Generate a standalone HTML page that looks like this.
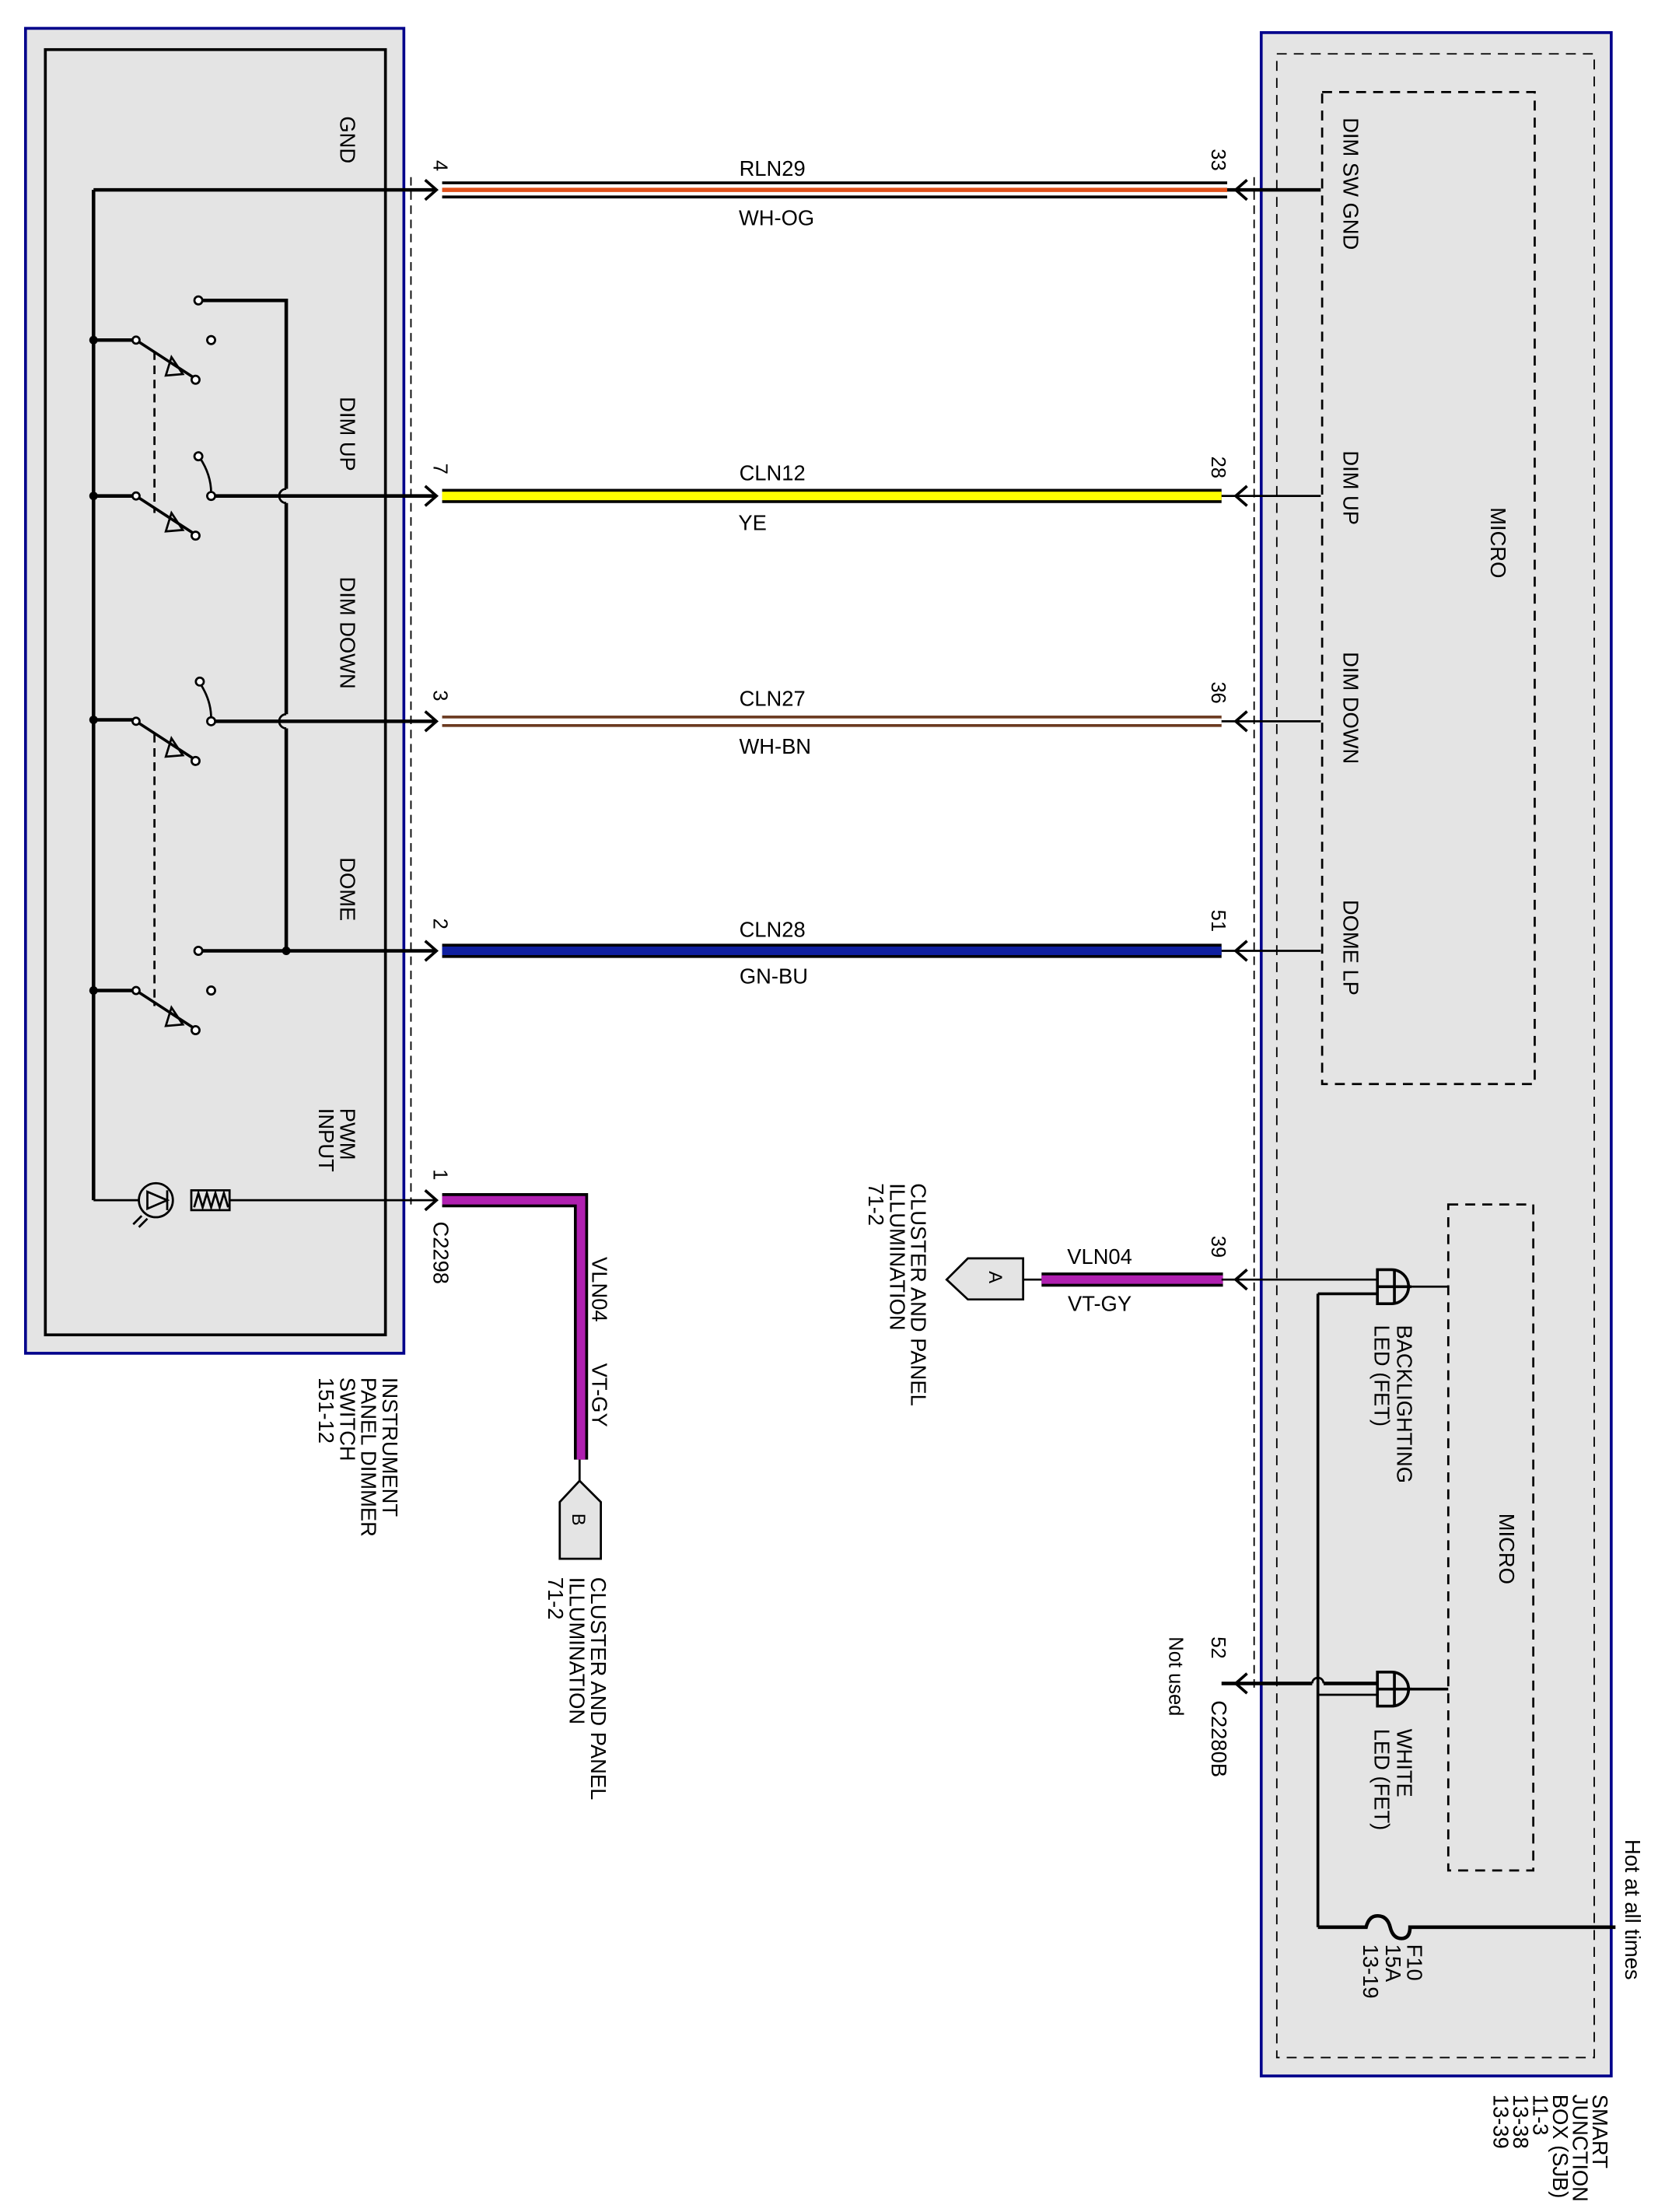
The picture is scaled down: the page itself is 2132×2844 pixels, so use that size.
<!DOCTYPE html>
<html><head><meta charset="utf-8"><style>
html,body{margin:0;padding:0;background:#fff;}
svg{display:block;}
text{font-family:"Liberation Sans",sans-serif;fill:#000;}
</style></head><body>
<svg width="2132" height="2844" viewBox="0 0 1170 1561" preserveAspectRatio="none" xmlns="http://www.w3.org/2000/svg">
<defs>
<g id="arR"><path d="M-8,-7 L0,0 L-8,7" fill="none" stroke="#000" stroke-width="2"/></g>
<g id="arL"><path d="M8,-7 L0,0 L8,7" fill="none" stroke="#000" stroke-width="2"/></g>
</defs>
<!-- left box -->
<rect x="18" y="20" width="267" height="935" fill="#e4e4e4" stroke="#00008b" stroke-width="2"/>
<rect x="32" y="35" width="240" height="907" fill="none" stroke="#000" stroke-width="2"/>
<line x1="290" y1="125" x2="290" y2="850" stroke="#000" stroke-dasharray="6,4"/>
<!-- right box -->
<rect x="890" y="23" width="247" height="1442" fill="#e4e4e4" stroke="#00008b" stroke-width="2"/>
<rect x="901" y="38" width="224" height="1414" fill="none" stroke="#000" stroke-dasharray="7,5"/>
<line x1="885" y1="125" x2="885" y2="1195" stroke="#000" stroke-dasharray="6,4"/>
<rect x="933" y="65" width="150" height="700" fill="none" stroke="#000" stroke-width="1.5" stroke-dasharray="7,5"/>
<rect x="1022" y="850" width="60" height="470" fill="none" stroke="#000" stroke-width="1.5" stroke-dasharray="7,5"/>

<!-- wires -->
<g>
<line x1="312" y1="129" x2="866" y2="129" stroke="#000" stroke-width="2"/>
<line x1="312" y1="139" x2="866" y2="139" stroke="#000" stroke-width="2"/>
<line x1="312" y1="134" x2="866" y2="134" stroke="#e0501a" stroke-width="3"/>
<rect x="312" y="345" width="550" height="10" fill="#000"/>
<rect x="312" y="347" width="550" height="6" fill="#ffff00"/>
<rect x="312" y="505" width="550" height="8" fill="#6b3a20"/>
<rect x="312" y="507" width="550" height="4" fill="#fff"/>
<rect x="312" y="666" width="550" height="10" fill="#000"/>
<rect x="312" y="668" width="550" height="6" fill="#1020a0"/>
<path d="M312,847 H410 V1030" fill="none" stroke="#000" stroke-width="10"/>
<path d="M312,847 H410 V1030" fill="none" stroke="#b020b0" stroke-width="6"/>
<rect x="735" y="898" width="128" height="10" fill="#000"/>
<rect x="735" y="900" width="128" height="6" fill="#b020b0"/>
</g>
<!-- arrows and stubs -->
<g stroke="#000" stroke-width="2.5" fill="none">
<line x1="66" y1="134" x2="308" y2="134"/>
<line x1="150" y1="350" x2="308" y2="350"/>
<line x1="150" y1="509" x2="308" y2="509"/>
<line x1="141" y1="671" x2="308" y2="671"/>
<line x1="866" y1="134" x2="932" y2="134"/>
</g>
<g stroke="#000" stroke-width="1.5">
<line x1="862" y1="350" x2="932" y2="350"/>
<line x1="862" y1="509" x2="932" y2="509"/>
<line x1="862" y1="671" x2="932" y2="671"/>
<line x1="162" y1="847" x2="308" y2="847"/>
<line x1="862" y1="903" x2="972" y2="903"/>
</g>
<use href="#arR" x="308" y="134"/><use href="#arR" x="308" y="350"/><use href="#arR" x="308" y="509"/><use href="#arR" x="308" y="671"/><use href="#arR" x="308" y="847"/>
<use href="#arL" x="872" y="134"/><use href="#arL" x="872" y="350"/><use href="#arL" x="872" y="509"/><use href="#arL" x="872" y="671"/><use href="#arL" x="872" y="903"/><use href="#arL" x="872" y="1188"/>

<!-- left circuit -->
<g stroke="#000" stroke-width="2.5" fill="none">
<line x1="66" y1="134" x2="66" y2="847"/>
<line x1="66" y1="847" x2="98" y2="847" stroke-width="1.5"/>
<line x1="66" y1="240" x2="96" y2="240"/>
<line x1="66" y1="350" x2="96" y2="350"/>
<line x1="66" y1="508" x2="96" y2="508"/>
<line x1="66" y1="699" x2="96" y2="699"/>
<path d="M142,212 H202 V345 M202,355 V504 M202,514 V671"/>
<path d="M202,345 a5,5 0 0 0 0,10 M202,504 a5,5 0 0 0 0,10" stroke-width="1.5"/>
<path d="M141,323 Q149,335 149,348 M141,482 Q149,494 149,507" stroke-width="1.5"/>
</g>
<g stroke="#000" stroke-width="2" fill="none">
<line x1="96" y1="240" x2="136" y2="266"/><line x1="96" y1="350" x2="136" y2="376"/>
<line x1="96" y1="509" x2="136" y2="535"/><line x1="96" y1="699" x2="136" y2="725"/>
<path d="M121,252 l8,12 l-12,1 z M121,362 l8,12 l-12,1 z M121,521 l8,12 l-12,1 z M121,711 l8,12 l-12,1 z" stroke-width="1.5"/>
<line x1="109" y1="248" x2="109" y2="362" stroke-dasharray="6,4" stroke-width="1.5"/>
<line x1="109" y1="518" x2="109" y2="710" stroke-dasharray="6,4" stroke-width="1.5"/>
</g>
<g fill="#fff" stroke="#000" stroke-width="1.5">
<circle cx="140" cy="212" r="2.8"/><circle cx="149" cy="240" r="2.8"/><circle cx="138" cy="268" r="2.8"/>
<circle cx="140" cy="322" r="2.8"/><circle cx="149" cy="350" r="2.8"/><circle cx="138" cy="378" r="2.8"/>
<circle cx="141" cy="481" r="2.8"/><circle cx="149" cy="509" r="2.8"/><circle cx="138" cy="537" r="2.8"/>
<circle cx="140" cy="671" r="2.8"/><circle cx="149" cy="699" r="2.8"/><circle cx="138" cy="727" r="2.8"/>
<circle cx="96" cy="240" r="2.5"/><circle cx="96" cy="350" r="2.5"/><circle cx="96" cy="509" r="2.5"/><circle cx="96" cy="699" r="2.5"/>
</g>
<g fill="#000"><circle cx="66" cy="240" r="3"/><circle cx="66" cy="350" r="3"/><circle cx="66" cy="508" r="3"/><circle cx="66" cy="699" r="3"/><circle cx="202" cy="671" r="3"/></g>
<!-- phototransistor & resistor -->
<g stroke="#000" stroke-width="1.5" fill="none">
<circle cx="110" cy="847" r="12"/>
<path d="M104,841 L104,853 L118,847 Z M118,840 V854"/>
<path d="M100,858 l-6,6 M104,860 l-6,6"/>
<rect x="135" y="840" width="27" height="14"/>
<path d="M137,852 l3,-10 l3,10 l3,-10 l3,10 l3,-10 l3,10 l3,-10 l3,10"/>
</g>
<!-- connectors -->
<path d="M668,903 L683,888 H722 V917 H683 Z" fill="#e4e4e4" stroke="#000" stroke-width="1.5"/>
<line x1="722" y1="903" x2="735" y2="903" stroke="#000" stroke-width="1.5"/>
<path d="M409,1045 L424,1060 V1100 H395 V1060 Z" fill="#e4e4e4" stroke="#000" stroke-width="1.5"/>
<line x1="409" y1="1030" x2="409" y2="1045" stroke="#000" stroke-width="1.5"/>

<!-- right circuit -->
<g stroke="#000" fill="none">
<line x1="862" y1="1188" x2="926" y2="1188" stroke-width="2.5"/>
<path d="M926,1188 a4,4 0 0 1 8,0" stroke-width="1.5"/>
<line x1="934" y1="1188" x2="972" y2="1188" stroke-width="2.5"/>
<line x1="930" y1="913" x2="930" y2="1360" stroke-width="2"/>
<line x1="930" y1="913" x2="972" y2="913" stroke-width="2"/>
<line x1="930" y1="1196" x2="972" y2="1196" stroke-width="1.5"/>
<line x1="995" y1="908" x2="1022" y2="908" stroke-width="1.5"/>
<line x1="995" y1="1192" x2="1022" y2="1192" stroke-width="2"/>
<path d="M972,896 h10 a12,12 0 0 1 0,24 h-10 z M972,908 h24 M984,896 v24" stroke-width="2"/>
<path d="M972,1180 h10 a12,12 0 0 1 0,24 h-10 z M972,1192 h24 M984,1180 v24" stroke-width="2"/>
<path d="M930,1360 H964 q2,-8 8,-8 q7,0 9,8 q2,8 8,8 q6,0 6,-8 H1140" stroke-width="2.5"/>
</g>

<!-- text -->
<g font-size="15">
<text transform="translate(240,82) rotate(90)">GND</text>
<text transform="translate(240,280) rotate(90)">DIM UP</text>
<text transform="translate(240,407) rotate(90)">DIM DOWN</text>
<text transform="translate(240,605) rotate(90)">DOME</text>
<text transform="translate(240,782) rotate(90)">PWM</text>
<text transform="translate(225,782) rotate(90)">INPUT</text>
<text transform="translate(270,972) rotate(90)">INSTRUMENT</text>
<text transform="translate(255,972) rotate(90)">PANEL DIMMER</text>
<text transform="translate(240,972) rotate(90)">SWITCH</text>
<text transform="translate(225,972) rotate(90)">151-12</text>
<text transform="translate(948,83) rotate(90)">DIM SW GND</text>
<text transform="translate(948,318) rotate(90)">DIM UP</text>
<text transform="translate(948,460) rotate(90)">DIM DOWN</text>
<text transform="translate(948,635) rotate(90)">DOME LP</text>
<text transform="translate(1052,358) rotate(90)">MICRO</text>
<text transform="translate(1058,1068) rotate(90)">MICRO</text>
<text transform="translate(986,935) rotate(90)">BACKLIGHTING</text>
<text transform="translate(970,935) rotate(90)">LED (FET)</text>
<text transform="translate(986,1220) rotate(90)">WHITE</text>
<text transform="translate(970,1220) rotate(90)">LED (FET)</text>
<text transform="translate(993,1372) rotate(90)">F10</text>
<text transform="translate(978,1372) rotate(90)">15A</text>
<text transform="translate(962,1372) rotate(90)">13-19</text>
<text transform="translate(1147,1298) rotate(90)">Hot at all times</text>
<text transform="translate(1124,1478) rotate(90)">SMART</text>
<text transform="translate(1110,1478) rotate(90)">JUNCTION</text>
<text transform="translate(1096,1478) rotate(90)">BOX (SJB)</text>
<text transform="translate(1082,1478) rotate(90)">11-3</text>
<text transform="translate(1068,1478) rotate(90)">13-38</text>
<text transform="translate(1054,1478) rotate(90)">13-39</text>
<text transform="translate(417,1113) rotate(90)">CLUSTER AND PANEL</text>
<text transform="translate(402,1113) rotate(90)">ILLUMINATION</text>
<text transform="translate(387,1113) rotate(90)">71-2</text>
<text transform="translate(643,835) rotate(90)">CLUSTER AND PANEL</text>
<text transform="translate(628,835) rotate(90)">ILLUMINATION</text>
<text transform="translate(613,835) rotate(90)">71-2</text>
<text transform="translate(418,887) rotate(90)">VLN04</text>
<text transform="translate(418,962) rotate(90)">VT-GY</text>
<text transform="translate(825,1155) rotate(90)" font-size="14">Not used</text>
<text transform="translate(855,1200) rotate(90)">C2280B</text>
<text transform="translate(306,862) rotate(90)">C2298</text>
<text transform="translate(698,897) rotate(90)" font-size="13">A</text>
<text transform="translate(404,1068) rotate(90)" font-size="13">B</text>
</g>
<g font-size="14">
<text transform="translate(306,113) rotate(90)">4</text>
<text transform="translate(306,327) rotate(90)">7</text>
<text transform="translate(306,487) rotate(90)">3</text>
<text transform="translate(306,648) rotate(90)">2</text>
<text transform="translate(306,825) rotate(90)">1</text>
<text transform="translate(855,105) rotate(90)">33</text>
<text transform="translate(855,322) rotate(90)">28</text>
<text transform="translate(855,481) rotate(90)">36</text>
<text transform="translate(855,642) rotate(90)">51</text>
<text transform="translate(855,872) rotate(90)">39</text>
<text transform="translate(855,1155) rotate(90)">52</text>
</g>
<g font-size="15" text-anchor="middle">
<text x="545" y="124">RLN29</text><text x="548" y="159">WH-OG</text>
<text x="545" y="339">CLN12</text><text x="531" y="374">YE</text>
<text x="545" y="498">CLN27</text><text x="547" y="532">WH-BN</text>
<text x="545" y="661">CLN28</text><text x="546" y="694">GN-BU</text>
<text x="776" y="892">VLN04</text><text x="776" y="925">VT-GY</text>
</g>
</svg>
</body></html>
